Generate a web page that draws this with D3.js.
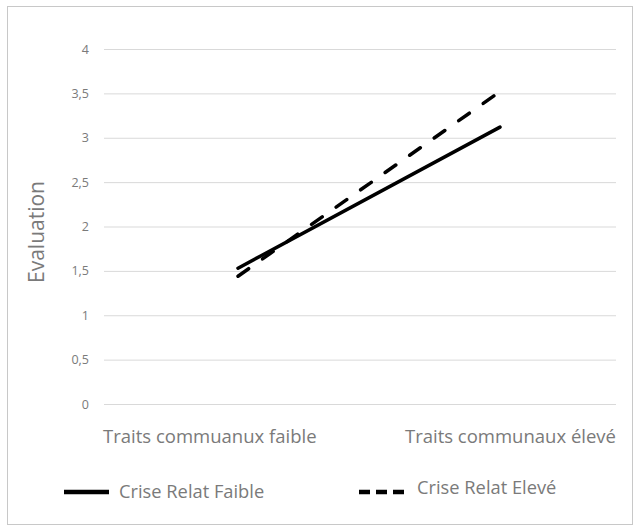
<!DOCTYPE html>
<html>
<head>
<meta charset="utf-8">
<script src="https://cdn.jsdelivr.net/npm/d3@7"></script>
<style>
  body { margin: 0; background: #fff; }
  svg text { font-family: "Open Sans", "Noto Sans", sans-serif; fill: #7a7a7a; }
</style>
</head>
<body>
<svg id="chart" width="639" height="531"></svg>
<script>
// Données
const categories = ['Traits commuanux faible', 'Traits communaux élevé'];
const serieFaible = [1.53, 3.12];   // Crise Relat Faible
const serieEleve = [1.44, 3.52];    // Crise Relat Elevé
const yTicks = [0, 0.5, 1, 1.5, 2, 2.5, 3, 3.5, 4];
const seriesNames = ['Crise Relat Faible', 'Crise Relat Elevé'];

const svg = d3.select('#chart');

// cadre
svg.append('rect')
    .attr('x', 7.5).attr('y', 6.5)
    .attr('width', 625).attr('height', 518)
    .attr('fill', '#fff')
    .attr('stroke', '#c8c8c8')
    .attr('stroke-width', 1);

// zone de tracé
const plot = { left: 104, right: 616, top: 49, bottom: 404 };

const yScale = d3.scaleLinear()
    .domain([0, 4])
    .range([plot.bottom, plot.top]);

// positions des points
const xScale = d3.scalePoint()
    .domain(categories)
    .range([238, 500]);

// grille + ticks Y
const yAxis = d3.axisLeft(yScale)
    .tickValues(yTicks)
    .tickSize(-(plot.right - plot.left))
    .tickPadding(15)
    .tickFormat(d => String(d).replace('.', ','));

const gy = svg.append('g')
    .attr('transform', `translate(${plot.left},0)`)
    .call(yAxis);
gy.select('.domain').remove();
gy.selectAll('.tick line').attr('stroke', '#d9d9d9').attr('stroke-width', 1);
gy.selectAll('.tick text').style('font-size', '12.5px').attr('fill', '#808080');

// titre axe Y
svg.append('text')
    .attr('transform', `translate(44,232) rotate(-90)`)
    .attr('text-anchor', 'middle')
    .style('font-size', '21px')
    .text('Evaluation');

// étiquettes des catégories
svg.selectAll('.cat-label')
    .data(categories)
    .enter().append('text')
    .attr('class', 'cat-label')
    .attr('x', (d, i) => i === 0 ? plot.left - 1 : plot.right)
    .attr('y', 443)
    .attr('text-anchor', (d, i) => i === 0 ? 'start' : 'end')
    .style('font-size', '18.5px')
    .text(d => d);

// lignes
const line = d3.line()
    .x((d, i) => xScale(categories[i]))
    .y(d => yScale(d));

svg.append('path')
    .datum(serieFaible)
    .attr('d', line)
    .attr('fill', 'none')
    .attr('stroke', '#000')
    .attr('stroke-width', 3.5)
    .attr('stroke-linecap', 'round');

svg.append('path')
    .datum(serieEleve)
    .attr('d', line)
    .attr('fill', 'none')
    .attr('stroke', '#000')
    .attr('stroke-width', 3.5)
    .attr('stroke-linecap', 'round')
    .attr('stroke-dasharray', '13,17');

// légende
const legend = [
    { name: seriesNames[0], x: 64, dash: null, tx: 55, ty: 6 },
    { name: seriesNames[1], x: 359, dash: '11,6', tx: 58, ty: 2 }
];

const lg = svg.selectAll('.legend')
    .data(legend)
    .enter().append('g')
    .attr('class', 'legend')
    .attr('transform', d => `translate(${d.x},492)`);

lg.append('line')
    .attr('x1', 0).attr('x2', 45)
    .attr('y1', 0).attr('y2', 0)
    .attr('stroke', '#000')
    .attr('stroke-width', 4.5)
    .attr('stroke-dasharray', d => d.dash);

lg.append('text')
    .attr('x', d => d.tx)
    .attr('y', d => d.ty)
    .style('font-size', '18.3px')
    .text(d => d.name);
</script>
</body>
</html>
